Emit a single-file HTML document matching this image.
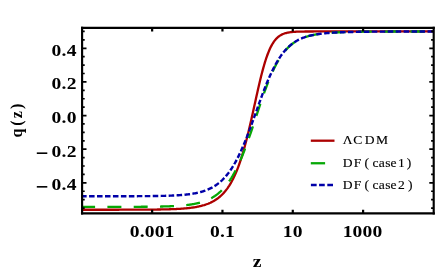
<!DOCTYPE html>
<html><head><meta charset="utf-8"><title>q(z)</title>
<style>
html,body{margin:0;padding:0;background:#fff;}
body{width:436px;height:273px;overflow:hidden;}
svg{display:block;will-change:transform;font-family:"Liberation Serif",serif;}
</style></head><body>
<svg width="436" height="273" viewBox="0 0 436 273">
<rect width="436" height="273" fill="#fff"/>
<clipPath id="c"><rect x="81.10" y="27.90" width="353.60" height="185.40"/></clipPath>
<g clip-path="url(#c)" fill="none" stroke-linecap="butt" stroke-linejoin="round">
<path d="M81.10 209.74 L81.86 209.74 L82.61 209.74 L83.37 209.74 L84.12 209.74 L84.88 209.74 L85.64 209.74 L86.39 209.74 L87.15 209.74 L87.91 209.74 L88.66 209.74 L89.42 209.74 L90.17 209.74 L90.93 209.74 L91.69 209.74 L92.44 209.74 L93.20 209.74 L93.95 209.74 L94.71 209.74 L95.47 209.74 L96.22 209.74 L96.98 209.74 L97.73 209.74 L98.49 209.74 L99.25 209.74 L100.00 209.74 L100.76 209.74 L101.52 209.74 L102.27 209.74 L103.03 209.74 L103.78 209.74 L104.54 209.74 L105.30 209.74 L106.05 209.74 L106.81 209.74 L107.56 209.73 L108.32 209.73 L109.08 209.73 L109.83 209.73 L110.59 209.73 L111.34 209.73 L112.10 209.73 L112.86 209.73 L113.61 209.73 L114.37 209.73 L115.13 209.73 L115.88 209.73 L116.64 209.73 L117.39 209.73 L118.15 209.73 L118.91 209.73 L119.66 209.72 L120.42 209.72 L121.17 209.72 L121.93 209.72 L122.69 209.72 L123.44 209.72 L124.20 209.72 L124.95 209.72 L125.71 209.72 L126.47 209.71 L127.22 209.71 L127.98 209.71 L128.74 209.71 L129.49 209.71 L130.25 209.71 L131.00 209.70 L131.76 209.70 L132.52 209.70 L133.27 209.70 L134.03 209.70 L134.78 209.69 L135.54 209.69 L136.30 209.69 L137.05 209.69 L137.81 209.68 L138.56 209.68 L139.32 209.68 L140.08 209.67 L140.83 209.67 L141.59 209.67 L142.35 209.66 L143.10 209.66 L143.86 209.65 L144.61 209.65 L145.37 209.64 L146.13 209.64 L146.88 209.63 L147.64 209.63 L148.39 209.62 L149.15 209.62 L149.91 209.61 L150.66 209.60 L151.42 209.60 L152.17 209.59 L152.93 209.58 L153.69 209.57 L154.44 209.56 L155.20 209.55 L155.96 209.55 L156.71 209.54 L157.47 209.52 L158.22 209.51 L158.98 209.50 L159.74 209.49 L160.49 209.48 L161.25 209.46 L162.00 209.45 L162.76 209.43 L163.52 209.42 L164.27 209.40 L165.03 209.38 L165.78 209.37 L166.54 209.35 L167.30 209.33 L168.05 209.31 L168.81 209.28 L169.57 209.26 L170.32 209.24 L171.08 209.21 L171.83 209.18 L172.59 209.16 L173.35 209.13 L174.10 209.09 L174.86 209.06 L175.61 209.03 L176.37 208.99 L177.13 208.95 L177.88 208.91 L178.64 208.87 L179.39 208.82 L180.15 208.78 L180.91 208.73 L181.66 208.68 L182.42 208.62 L183.18 208.57 L183.93 208.51 L184.69 208.44 L185.44 208.38 L186.20 208.31 L186.96 208.24 L187.71 208.16 L188.47 208.08 L189.22 207.99 L189.98 207.90 L190.74 207.81 L191.49 207.71 L192.25 207.61 L193.00 207.50 L193.76 207.39 L194.52 207.27 L195.27 207.14 L196.03 207.01 L196.79 206.87 L197.54 206.72 L198.30 206.57 L199.05 206.41 L199.81 206.24 L200.57 206.06 L201.32 205.88 L202.08 205.68 L202.83 205.47 L203.59 205.25 L204.35 205.03 L205.10 204.79 L205.86 204.53 L206.61 204.27 L207.37 203.99 L208.13 203.70 L208.88 203.39 L209.64 203.07 L210.40 202.73 L211.15 202.37 L211.91 201.99 L212.66 201.60 L213.42 201.18 L214.18 200.75 L214.93 200.29 L215.69 199.81 L216.44 199.30 L217.20 198.77 L217.96 198.21 L218.71 197.63 L219.47 197.01 L220.22 196.36 L220.98 195.68 L221.74 194.97 L222.49 194.22 L223.25 193.43 L224.01 192.61 L224.76 191.74 L225.52 190.83 L226.27 189.87 L227.03 188.87 L227.79 187.81 L228.54 186.71 L229.30 185.55 L230.05 184.33 L230.81 183.06 L231.57 181.73 L232.32 180.33 L233.08 178.86 L233.83 177.33 L234.59 175.73 L235.35 174.06 L236.10 172.31 L236.86 170.48 L237.62 168.57 L238.37 166.59 L239.13 164.51 L239.88 162.36 L240.64 160.12 L241.40 157.79 L242.15 155.37 L242.91 152.86 L243.66 150.27 L244.42 147.59 L245.18 144.82 L245.93 141.97 L246.69 139.04 L247.44 136.03 L248.20 132.94 L248.96 129.79 L249.71 126.57 L250.47 123.29 L251.23 119.97 L251.98 116.60 L252.74 113.19 L253.49 109.77 L254.25 106.33 L255.01 102.88 L255.76 99.44 L256.52 96.02 L257.27 92.63 L258.03 89.28 L258.79 85.99 L259.54 82.76 L260.30 79.60 L261.05 76.52 L261.81 73.54 L262.57 70.65 L263.32 67.88 L264.08 65.21 L264.84 62.67 L265.59 60.24 L266.35 57.95 L267.10 55.77 L267.86 53.73 L268.62 51.81 L269.37 50.01 L270.13 48.34 L270.88 46.78 L271.64 45.34 L272.40 44.01 L273.15 42.79 L273.91 41.66 L274.66 40.63 L275.42 39.69 L276.18 38.84 L276.93 38.06 L277.69 37.35 L278.45 36.71 L279.20 36.14 L279.96 35.62 L280.71 35.16 L281.47 34.74 L282.23 34.36 L282.98 34.03 L283.74 33.73 L284.49 33.46 L285.25 33.23 L286.01 33.02 L286.76 32.83 L287.52 32.67 L288.27 32.52 L289.03 32.39 L289.79 32.28 L290.54 32.18 L291.30 32.09 L292.06 32.01 L292.81 31.94 L293.57 31.88 L294.32 31.83 L295.08 31.78 L295.84 31.74 L296.59 31.71 L297.35 31.68 L298.10 31.65 L298.86 31.62 L299.62 31.60 L300.37 31.59 L301.13 31.57 L301.88 31.56 L302.64 31.54 L303.40 31.53 L304.15 31.53 L304.91 31.52 L305.67 31.51 L306.42 31.50 L307.18 31.50 L307.93 31.49 L308.69 31.49 L309.45 31.49 L310.20 31.48 L310.96 31.48 L311.71 31.48 L312.47 31.48 L313.23 31.48 L313.98 31.47 L314.74 31.47 L315.49 31.47 L316.25 31.47 L317.01 31.47 L317.76 31.47 L318.52 31.47 L319.28 31.47 L320.03 31.47 L320.79 31.47 L321.54 31.47 L322.30 31.47 L323.06 31.47 L323.81 31.47 L324.57 31.47 L325.32 31.47 L326.08 31.47 L326.84 31.47 L327.59 31.47 L328.35 31.47 L329.10 31.47 L329.86 31.47 L330.62 31.47 L331.37 31.47 L332.13 31.47 L332.89 31.47 L333.64 31.47 L334.40 31.47 L335.15 31.47 L335.91 31.47 L336.67 31.47 L337.42 31.47 L338.18 31.47 L338.93 31.47 L339.69 31.47 L340.45 31.47 L341.20 31.47 L341.96 31.47 L342.71 31.47 L343.47 31.47 L344.23 31.47 L344.98 31.47 L345.74 31.47 L346.50 31.47 L347.25 31.47 L348.01 31.47 L348.76 31.47 L349.52 31.47 L350.28 31.47 L351.03 31.47 L351.79 31.47 L352.54 31.47 L353.30 31.47 L354.06 31.47 L354.81 31.47 L355.57 31.47 L356.32 31.47 L357.08 31.47 L357.84 31.47 L358.59 31.47 L359.35 31.47 L360.11 31.47 L360.86 31.47 L361.62 31.47 L362.37 31.47 L363.13 31.47 L363.89 31.47 L364.64 31.47 L365.40 31.47 L366.15 31.47 L366.91 31.47 L367.67 31.47 L368.42 31.47 L369.18 31.47 L369.93 31.47 L370.69 31.47 L371.45 31.47 L372.20 31.47 L372.96 31.47 L373.72 31.47 L374.47 31.47 L375.23 31.47 L375.98 31.47 L376.74 31.47 L377.50 31.47 L378.25 31.47 L379.01 31.47 L379.76 31.47 L380.52 31.47 L381.28 31.47 L382.03 31.47 L382.79 31.47 L383.54 31.47 L384.30 31.47 L385.06 31.47 L385.81 31.47 L386.57 31.47 L387.33 31.47 L388.08 31.47 L388.84 31.47 L389.59 31.47 L390.35 31.47 L391.11 31.47 L391.86 31.47 L392.62 31.47 L393.37 31.47 L394.13 31.47 L394.89 31.47 L395.64 31.47 L396.40 31.47 L397.15 31.47 L397.91 31.47 L398.67 31.47 L399.42 31.47 L400.18 31.47 L400.94 31.47 L401.69 31.47 L402.45 31.47 L403.20 31.47 L403.96 31.47 L404.72 31.47 L405.47 31.47 L406.23 31.47 L406.98 31.47 L407.74 31.47 L408.50 31.47 L409.25 31.47 L410.01 31.47 L410.76 31.47 L411.52 31.47 L412.28 31.47 L413.03 31.47 L413.79 31.47 L414.55 31.47 L415.30 31.47 L416.06 31.47 L416.81 31.47 L417.57 31.47 L418.33 31.47 L419.08 31.47 L419.84 31.47 L420.59 31.47 L421.35 31.47 L422.11 31.47 L422.86 31.47 L423.62 31.47 L424.37 31.47 L425.13 31.47 L425.89 31.47 L426.64 31.47 L427.40 31.47 L428.16 31.47 L428.91 31.47 L429.67 31.47 L430.42 31.47 L431.18 31.47 L431.94 31.47 L432.69 31.47 L433.45 31.47" stroke="#ac0000" stroke-width="2.3"/>
<path d="M81.10 206.86 L81.68 206.86 L82.27 206.86 L82.85 206.86 L83.43 206.86 L84.02 206.86 L84.60 206.86 L85.18 206.86 L85.77 206.86 L86.35 206.86 L86.93 206.86 L87.52 206.86 L88.10 206.86 L88.68 206.86 L89.27 206.86 L89.85 206.86 L90.43 206.86 L91.02 206.86 L91.60 206.86 L92.18 206.86 L92.77 206.86 L93.35 206.86 L93.93 206.86 L94.52 206.86 L95.10 206.86 M107.40 206.86 L107.98 206.85 L108.57 206.85 L109.15 206.85 L109.73 206.85 L110.32 206.85 L110.90 206.85 L111.48 206.85 L112.07 206.85 L112.65 206.85 L113.23 206.85 L113.82 206.85 L114.40 206.85 L114.98 206.85 L115.57 206.85 L116.15 206.85 L116.73 206.85 L117.32 206.85 L117.90 206.85 L118.48 206.84 L119.07 206.84 L119.65 206.84 L120.23 206.84 L120.82 206.84 L121.40 206.84 M133.70 206.81 L134.28 206.81 L134.87 206.80 L135.45 206.80 L136.03 206.80 L136.62 206.80 L137.20 206.79 L137.78 206.79 L138.37 206.79 L138.95 206.79 L139.53 206.78 L140.12 206.78 L140.70 206.78 L141.28 206.77 L141.87 206.77 L142.45 206.77 L143.03 206.76 L143.62 206.76 L144.20 206.75 L144.78 206.75 L145.37 206.74 L145.95 206.74 L146.53 206.73 L147.12 206.73 L147.70 206.72 M160.00 206.55 L160.58 206.54 L161.16 206.52 L161.75 206.51 L162.33 206.50 L162.91 206.48 L163.50 206.47 L164.08 206.45 L164.66 206.44 L165.25 206.42 L165.83 206.40 L166.41 206.38 L166.99 206.37 L167.58 206.35 L168.16 206.33 L168.74 206.30 L169.33 206.28 L169.91 206.26 L170.49 206.24 L171.07 206.21 L171.66 206.19 L172.24 206.16 L172.82 206.13 L173.40 206.11 L173.99 206.08 M186.24 205.11 L186.82 205.05 L187.39 204.98 L187.97 204.90 L188.55 204.83 L189.13 204.75 L189.70 204.67 L190.28 204.59 L190.85 204.50 L191.43 204.41 L192.00 204.32 L192.57 204.22 L193.15 204.12 L193.72 204.02 L194.29 203.91 L194.86 203.80 L195.43 203.69 L196.00 203.57 L196.56 203.45 L197.13 203.32 L197.69 203.19 L198.26 203.06 L198.82 202.92 L199.38 202.77 L199.94 202.62 M211.16 198.22 L211.66 197.95 L212.15 197.67 L212.64 197.38 L213.12 197.09 L213.60 196.80 L214.07 196.50 L214.54 196.19 L215.01 195.88 L215.47 195.56 L215.93 195.24 L216.38 194.91 L216.83 194.58 L217.27 194.24 L217.71 193.90 L218.14 193.55 L218.57 193.20 L218.99 192.84 L219.41 192.48 L219.82 192.11 L220.23 191.74 L220.64 191.37 L221.04 190.99 L221.43 190.61 L221.82 190.23 M229.09 181.42 L229.39 180.98 L229.69 180.53 L229.99 180.09 L230.28 179.64 L230.57 179.19 L230.86 178.74 L231.15 178.29 L231.43 177.83 L231.71 177.38 L231.99 176.92 L232.26 176.46 L232.53 176.01 L232.80 175.55 L233.07 175.08 L233.33 174.62 L233.59 174.16 L233.85 173.69 L234.11 173.23 L234.37 172.76 L234.62 172.30 L234.87 171.83 L235.12 171.36 L235.37 170.89 L235.61 170.42 M240.36 160.34 L240.57 159.85 L240.78 159.37 L240.99 158.88 L241.19 158.40 L241.40 157.91 L241.60 157.43 L241.80 156.94 L242.00 156.45 L242.20 155.97 L242.40 155.48 L242.60 154.99 L242.80 154.50 L242.99 154.01 L243.19 153.52 L243.38 153.04 L243.58 152.55 L243.77 152.06 L243.96 151.57 L244.15 151.08 L244.34 150.59 L244.53 150.10 L244.72 149.61 L244.90 149.11 L245.09 148.62 M248.86 138.22 L249.04 137.72 L249.21 137.23 L249.38 136.73 L249.55 136.24 L249.73 135.74 L249.90 135.24 L250.07 134.75 L250.24 134.25 L250.41 133.76 L250.58 133.26 L250.75 132.76 L250.91 132.27 L251.08 131.77 L251.25 131.28 L251.42 130.78 L251.59 130.28 L251.75 129.79 L251.92 129.29 L252.09 128.79 L252.25 128.29 L252.42 127.80 L252.59 127.30 L252.75 126.80 L252.92 126.31 M256.39 115.82 L256.55 115.32 L256.71 114.82 L256.88 114.32 L257.04 113.83 L257.21 113.33 L257.37 112.83 L257.53 112.33 L257.70 111.84 L257.86 111.34 L258.03 110.84 L258.19 110.34 L258.36 109.85 L258.52 109.35 L258.69 108.85 L258.85 108.35 L259.02 107.86 L259.18 107.36 L259.35 106.86 L259.52 106.37 L259.68 105.87 L259.85 105.37 L260.02 104.87 L260.18 104.38 L260.35 103.88 M263.96 93.43 L264.14 92.93 L264.31 92.44 L264.49 91.95 L264.67 91.45 L264.85 90.96 L265.03 90.47 L265.21 89.97 L265.39 89.48 L265.57 88.99 L265.75 88.49 L265.93 88.00 L266.11 87.51 L266.30 87.02 L266.48 86.53 L266.67 86.03 L266.85 85.54 L267.04 85.05 L267.23 84.56 L267.42 84.07 L267.61 83.58 L267.80 83.09 L267.99 82.60 L268.18 82.11 L268.38 81.62 M272.73 71.40 L272.95 70.92 L273.17 70.44 L273.40 69.96 L273.63 69.48 L273.85 69.00 L274.08 68.53 L274.32 68.05 L274.55 67.58 L274.79 67.10 L275.03 66.63 L275.27 66.16 L275.51 65.69 L275.75 65.22 L276.00 64.75 L276.25 64.28 L276.50 63.81 L276.75 63.34 L277.01 62.88 L277.27 62.41 L277.53 61.95 L277.79 61.48 L278.06 61.02 L278.33 60.56 L278.60 60.10 M285.11 50.84 L285.46 50.43 L285.81 50.02 L286.18 49.61 L286.54 49.20 L286.91 48.80 L287.29 48.41 L287.67 48.01 L288.05 47.62 L288.44 47.24 L288.84 46.86 L289.24 46.48 L289.64 46.11 L290.06 45.74 L290.47 45.38 L290.89 45.02 L291.32 44.66 L291.75 44.31 L292.19 43.97 L292.63 43.63 L293.08 43.30 L293.53 42.97 L293.98 42.65 L294.45 42.33 L294.91 42.02 M305.74 36.91 L306.29 36.74 L306.84 36.57 L307.39 36.40 L307.95 36.24 L308.50 36.08 L309.06 35.93 L309.62 35.79 L310.18 35.65 L310.75 35.51 L311.31 35.38 L311.88 35.25 L312.44 35.13 L313.01 35.01 L313.58 34.90 L314.15 34.79 L314.72 34.68 L315.29 34.58 L315.86 34.48 L316.44 34.38 L317.01 34.28 L317.59 34.19 L318.16 34.11 L318.74 34.02 L319.31 33.94 M331.53 32.73 L332.12 32.69 L332.70 32.66 L333.28 32.62 L333.86 32.59 L334.44 32.55 L335.03 32.52 L335.61 32.49 L336.19 32.46 L336.77 32.43 L337.36 32.40 L337.94 32.37 L338.52 32.34 L339.10 32.32 L339.69 32.29 L340.27 32.27 L340.85 32.24 L341.43 32.22 L342.02 32.20 L342.60 32.17 L343.18 32.15 L343.76 32.13 L344.35 32.11 L344.93 32.09 L345.51 32.08 M357.81 31.79 L358.39 31.78 L358.98 31.77 L359.56 31.77 L360.14 31.76 L360.73 31.75 L361.31 31.74 L361.89 31.73 L362.48 31.72 L363.06 31.72 L363.64 31.71 L364.23 31.70 L364.81 31.70 L365.39 31.69 L365.98 31.68 L366.56 31.68 L367.14 31.67 L367.73 31.67 L368.31 31.66 L368.89 31.65 L369.47 31.65 L370.06 31.64 L370.64 31.64 L371.22 31.63 L371.81 31.63 M384.11 31.55 L384.69 31.55 L385.27 31.55 L385.86 31.55 L386.44 31.54 L387.02 31.54 L387.61 31.54 L388.19 31.54 L388.77 31.54 L389.36 31.53 L389.94 31.53 L390.52 31.53 L391.11 31.53 L391.69 31.53 L392.27 31.53 L392.86 31.52 L393.44 31.52 L394.02 31.52 L394.61 31.52 L395.19 31.52 L395.77 31.52 L396.36 31.51 L396.94 31.51 L397.52 31.51 L398.11 31.51 M410.41 31.49 L410.99 31.49 L411.57 31.49 L412.16 31.49 L412.74 31.49 L413.32 31.49 L413.91 31.49 L414.49 31.49 L415.07 31.49 L415.66 31.48 L416.24 31.48 L416.82 31.48 L417.41 31.48 L417.99 31.48 L418.57 31.48 L419.16 31.48 L419.74 31.48 L420.32 31.48 L420.91 31.48 L421.49 31.48 L422.07 31.48 L422.66 31.48 L423.24 31.48 L423.82 31.48 L424.41 31.48" stroke="#06a806" stroke-width="2.3"/>
<path d="M81.10 196.24 L81.71 196.24 L82.33 196.24 L82.94 196.24 L83.56 196.24 L84.17 196.24 L84.79 196.24 L85.40 196.24 L86.02 196.24 L86.63 196.24 M89.06 196.24 L89.67 196.24 L90.29 196.24 L90.90 196.24 L91.52 196.24 L92.13 196.24 L92.75 196.24 L93.36 196.24 L93.98 196.24 L94.59 196.24 M97.02 196.24 L97.63 196.24 L98.25 196.24 L98.86 196.24 L99.48 196.24 L100.09 196.24 L100.71 196.24 L101.32 196.24 L101.94 196.24 L102.55 196.24 M104.98 196.24 L105.59 196.24 L106.21 196.24 L106.82 196.24 L107.44 196.24 L108.05 196.24 L108.67 196.24 L109.28 196.24 L109.90 196.24 L110.51 196.23 M112.94 196.23 L113.55 196.23 L114.17 196.23 L114.78 196.23 L115.40 196.23 L116.01 196.23 L116.63 196.23 L117.24 196.23 L117.86 196.23 L118.47 196.23 M120.90 196.22 L121.51 196.22 L122.13 196.22 L122.74 196.22 L123.36 196.22 L123.97 196.22 L124.59 196.22 L125.20 196.22 L125.82 196.21 L126.43 196.21 M128.86 196.21 L129.47 196.21 L130.09 196.20 L130.70 196.20 L131.32 196.20 L131.93 196.20 L132.55 196.20 L133.16 196.19 L133.78 196.19 L134.39 196.19 M136.82 196.18 L137.43 196.18 L138.05 196.17 L138.66 196.17 L139.28 196.17 L139.89 196.17 L140.51 196.16 L141.12 196.16 L141.74 196.16 L142.35 196.15 M144.78 196.13 L145.39 196.13 L146.01 196.13 L146.62 196.12 L147.24 196.12 L147.85 196.11 L148.47 196.10 L149.08 196.10 L149.70 196.09 L150.31 196.09 M152.74 196.06 L153.35 196.05 L153.97 196.04 L154.58 196.03 L155.20 196.03 L155.81 196.02 L156.43 196.01 L157.04 196.00 L157.65 195.99 L158.27 195.98 M160.70 195.93 L161.31 195.92 L161.93 195.90 L162.54 195.89 L163.15 195.88 L163.77 195.86 L164.38 195.84 L165.00 195.83 L165.61 195.81 L166.23 195.79 M168.65 195.71 L169.27 195.69 L169.88 195.67 L170.50 195.65 L171.11 195.62 L171.72 195.60 L172.34 195.57 L172.95 195.54 L173.56 195.51 L174.18 195.48 M176.60 195.35 L177.22 195.32 L177.83 195.28 L178.44 195.24 L179.06 195.20 L179.67 195.16 L180.28 195.11 L180.89 195.06 L181.50 195.02 L182.12 194.97 M184.53 194.75 L185.14 194.69 L185.75 194.63 L186.36 194.56 L186.97 194.49 L187.58 194.42 L188.19 194.35 L188.80 194.27 L189.41 194.19 L190.02 194.11 M192.41 193.75 L193.02 193.65 L193.62 193.55 L194.22 193.44 L194.82 193.33 L195.43 193.22 L196.02 193.10 L196.62 192.97 L197.22 192.85 L197.82 192.71 M200.16 192.14 L200.75 191.98 L201.33 191.82 L201.92 191.65 L202.50 191.48 L203.08 191.30 L203.66 191.11 L204.24 190.92 L204.81 190.73 L205.38 190.52 M207.61 189.66 L208.16 189.42 L208.71 189.18 L209.26 188.93 L209.80 188.68 L210.34 188.42 L210.88 188.15 L211.41 187.88 L211.94 187.60 L212.46 187.31 M214.49 186.12 L214.99 185.80 L215.48 185.48 L215.97 185.15 L216.46 184.81 L216.94 184.47 L217.41 184.13 L217.88 183.78 L218.35 183.42 L218.81 183.05 M220.57 181.57 L221.01 181.18 L221.43 180.79 L221.86 180.40 L222.28 180.00 L222.69 179.59 L223.10 179.19 L223.50 178.77 L223.90 178.36 L224.30 177.94 M225.81 176.25 L226.18 175.81 L226.55 175.38 L226.91 174.93 L227.27 174.49 L227.62 174.05 L227.97 173.60 L228.32 173.15 L228.66 172.69 L229.00 172.24 M230.30 170.41 L230.62 169.95 L230.94 169.48 L231.25 169.01 L231.56 168.54 L231.87 168.06 L232.17 167.59 L232.47 167.11 L232.77 166.64 L233.07 166.16 M234.21 164.25 L234.49 163.76 L234.77 163.28 L235.04 162.79 L235.32 162.30 L235.59 161.81 L235.86 161.32 L236.13 160.83 L236.39 160.34 L236.65 159.84 M237.67 157.88 L237.93 157.38 L238.18 156.88 L238.43 156.38 L238.67 155.88 L238.92 155.38 L239.16 154.88 L239.40 154.38 L239.64 153.88 L239.88 153.37 M240.81 151.38 L241.04 150.87 L241.27 150.36 L241.50 149.86 L241.73 149.35 L241.95 148.84 L242.17 148.33 L242.40 147.82 L242.62 147.32 L242.84 146.81 M243.70 144.79 L243.92 144.27 L244.13 143.76 L244.34 143.25 L244.55 142.74 L244.77 142.22 L244.98 141.71 L245.18 141.20 L245.39 140.68 L245.60 140.17 M246.41 138.13 L246.61 137.62 L246.82 137.10 L247.02 136.59 L247.22 136.07 L247.42 135.55 L247.62 135.04 L247.82 134.52 L248.02 134.00 L248.21 133.49 M248.99 131.44 L249.18 130.92 L249.38 130.40 L249.57 129.88 L249.77 129.37 L249.96 128.85 L250.15 128.33 L250.34 127.81 L250.53 127.29 L250.73 126.77 M251.48 124.72 L251.67 124.20 L251.86 123.68 L252.05 123.16 L252.23 122.64 L252.42 122.12 L252.61 121.60 L252.80 121.08 L252.98 120.56 L253.17 120.04 M253.91 117.98 L254.10 117.46 L254.28 116.94 L254.47 116.42 L254.66 115.90 L254.84 115.38 L255.03 114.86 L255.21 114.34 L255.40 113.82 L255.58 113.30 M256.32 111.24 L256.50 110.72 L256.69 110.20 L256.87 109.67 L257.06 109.15 L257.25 108.63 L257.43 108.11 L257.62 107.59 L257.80 107.07 L257.99 106.55 M258.73 104.49 L258.92 103.97 L259.10 103.45 L259.29 102.93 L259.48 102.41 L259.67 101.89 L259.86 101.37 L260.05 100.85 L260.24 100.33 L260.42 99.81 M261.18 97.76 L261.37 97.24 L261.56 96.72 L261.75 96.20 L261.95 95.69 L262.14 95.17 L262.33 94.65 L262.53 94.13 L262.72 93.61 L262.92 93.09 M263.69 91.05 L263.89 90.53 L264.09 90.01 L264.29 89.50 L264.49 88.98 L264.69 88.47 L264.89 87.95 L265.10 87.43 L265.30 86.92 L265.50 86.40 M266.32 84.37 L266.53 83.85 L266.73 83.34 L266.95 82.83 L267.16 82.31 L267.37 81.80 L267.58 81.29 L267.80 80.78 L268.01 80.27 L268.23 79.76 M269.10 77.74 L269.32 77.23 L269.54 76.72 L269.77 76.21 L269.99 75.70 L270.22 75.20 L270.45 74.69 L270.68 74.18 L270.92 73.68 L271.15 73.17 M272.09 71.18 L272.33 70.68 L272.58 70.18 L272.83 69.68 L273.07 69.18 L273.32 68.68 L273.58 68.18 L273.83 67.69 L274.09 67.19 L274.34 66.69 M275.39 64.74 L275.66 64.25 L275.93 63.76 L276.20 63.27 L276.48 62.79 L276.76 62.30 L277.04 61.82 L277.33 61.33 L277.62 60.85 L277.91 60.37 M279.09 58.48 L279.40 58.01 L279.71 57.54 L280.03 57.07 L280.34 56.60 L280.67 56.14 L280.99 55.67 L281.32 55.21 L281.65 54.75 L281.99 54.30 M283.37 52.52 L283.72 52.07 L284.09 51.63 L284.45 51.19 L284.83 50.76 L285.20 50.33 L285.59 49.90 L285.97 49.48 L286.36 49.06 L286.76 48.64 M288.38 47.03 L288.81 46.63 L289.24 46.24 L289.67 45.86 L290.11 45.48 L290.56 45.10 L291.01 44.73 L291.46 44.36 L291.93 44.00 L292.39 43.65 M294.30 42.31 L294.79 41.98 L295.29 41.67 L295.80 41.36 L296.31 41.05 L296.82 40.76 L297.34 40.46 L297.87 40.18 L298.40 39.90 L298.93 39.63 M301.09 38.63 L301.64 38.40 L302.20 38.17 L302.76 37.94 L303.32 37.73 L303.89 37.52 L304.46 37.31 L305.03 37.12 L305.61 36.93 L306.19 36.74 M308.50 36.07 L309.08 35.91 L309.68 35.76 L310.27 35.62 L310.86 35.48 L311.46 35.34 L312.05 35.21 L312.65 35.08 L313.25 34.96 L313.85 34.84 M316.23 34.42 L316.84 34.32 L317.44 34.22 L318.05 34.13 L318.65 34.04 L319.26 33.96 L319.87 33.87 L320.47 33.80 L321.08 33.72 L321.69 33.65 M324.10 33.38 L324.71 33.32 L325.32 33.26 L325.94 33.20 L326.55 33.15 L327.16 33.09 L327.77 33.04 L328.38 32.99 L328.99 32.94 L329.61 32.90 M332.03 32.73 L332.64 32.69 L333.26 32.65 L333.87 32.62 L334.48 32.58 L335.09 32.55 L335.71 32.51 L336.32 32.48 L336.94 32.45 L337.55 32.42 M339.98 32.31 L340.59 32.29 L341.20 32.27 L341.82 32.24 L342.43 32.22 L343.04 32.20 L343.66 32.18 L344.27 32.16 L344.89 32.14 L345.50 32.12 M347.93 32.05 L348.54 32.03 L349.16 32.01 L349.77 32.00 L350.39 31.98 L351.00 31.97 L351.61 31.95 L352.23 31.94 L352.84 31.93 L353.46 31.91 M355.89 31.87 L356.50 31.85 L357.12 31.84 L357.73 31.83 L358.34 31.82 L358.96 31.81 L359.57 31.80 L360.19 31.79 L360.80 31.79 L361.42 31.78 M363.85 31.74 L364.46 31.74 L365.07 31.73 L365.69 31.72 L366.30 31.72 L366.92 31.71 L367.53 31.70 L368.15 31.70 L368.76 31.69 L369.38 31.68 M371.81 31.66 L372.42 31.66 L373.03 31.65 L373.65 31.65 L374.26 31.64 L374.88 31.64 L375.49 31.63 L376.11 31.63 L376.72 31.62 L377.34 31.62 M379.77 31.60 L380.38 31.60 L380.99 31.60 L381.61 31.59 L382.22 31.59 L382.84 31.59 L383.45 31.58 L384.07 31.58 L384.68 31.58 L385.29 31.57 M387.72 31.56 L388.34 31.56 L388.95 31.56 L389.57 31.56 L390.18 31.55 L390.80 31.55 L391.41 31.55 L392.03 31.55 L392.64 31.54 L393.25 31.54 M395.68 31.54 L396.30 31.53 L396.91 31.53 L397.53 31.53 L398.14 31.53 L398.76 31.53 L399.37 31.52 L399.99 31.52 L400.60 31.52 L401.21 31.52 M403.64 31.52 L404.26 31.51 L404.87 31.51 L405.49 31.51 L406.10 31.51 L406.72 31.51 L407.33 31.51 L407.95 31.51 L408.56 31.51 L409.17 31.50 M411.60 31.50 L412.22 31.50 L412.83 31.50 L413.45 31.50 L414.06 31.50 L414.68 31.50 L415.29 31.50 L415.91 31.49 L416.52 31.49 L417.13 31.49 M419.56 31.49 L420.18 31.49 L420.79 31.49 L421.41 31.49 L422.02 31.49 L422.64 31.49 L423.25 31.49 L423.87 31.49 L424.48 31.49 L425.09 31.49 M427.52 31.48 L428.14 31.48 L428.75 31.48 L429.37 31.48 L429.98 31.48 L430.60 31.48 L431.21 31.48 L431.83 31.48 L432.44 31.48 L433.05 31.48" stroke="#0000a8" stroke-width="2.4"/>
</g>
<path d="M82.10 208.05 h2.60 M433.70 208.05 h-2.60 M82.10 199.64 h2.60 M433.70 199.64 h-2.60 M82.10 191.23 h2.60 M433.70 191.23 h-2.60 M82.10 182.83 h4.40 M433.70 182.83 h-4.40 M82.10 174.42 h2.60 M433.70 174.42 h-2.60 M82.10 166.01 h2.60 M433.70 166.01 h-2.60 M82.10 157.60 h2.60 M433.70 157.60 h-2.60 M82.10 149.19 h4.40 M433.70 149.19 h-4.40 M82.10 140.78 h2.60 M433.70 140.78 h-2.60 M82.10 132.37 h2.60 M433.70 132.37 h-2.60 M82.10 123.96 h2.60 M433.70 123.96 h-2.60 M82.10 115.55 h4.40 M433.70 115.55 h-4.40 M82.10 107.15 h2.60 M433.70 107.15 h-2.60 M82.10 98.74 h2.60 M433.70 98.74 h-2.60 M82.10 90.33 h2.60 M433.70 90.33 h-2.60 M82.10 81.92 h4.40 M433.70 81.92 h-4.40 M82.10 73.51 h2.60 M433.70 73.51 h-2.60 M82.10 65.10 h2.60 M433.70 65.10 h-2.60 M82.10 56.69 h2.60 M433.70 56.69 h-2.60 M82.10 48.28 h4.40 M433.70 48.28 h-4.40 M82.10 39.87 h2.60 M433.70 39.87 h-2.60 M82.10 31.47 h2.60 M433.70 31.47 h-2.60" stroke="#000" stroke-width="1.7" fill="none"/>
<path d="M152.14 213.30 v-3.60 M152.14 27.90 v3.60 M222.46 213.30 v-3.60 M222.46 27.90 v3.60 M292.78 213.30 v-3.60 M292.78 27.90 v3.60 M363.10 213.30 v-3.60 M363.10 27.90 v3.60" stroke="#000" stroke-width="2.2" fill="none"/>
<path d="M82.10 27.90 H433.70" stroke="#000" stroke-width="2.15" stroke-linecap="square" fill="none"/>
<path d="M82.10 213.35 H433.70" stroke="#000" stroke-width="2.3" stroke-linecap="square" fill="none"/>
<path d="M82.10 27.90 V213.30 M433.70 27.90 V213.30" stroke="#000" stroke-width="2.15" stroke-linecap="square" fill="none"/>
<g fill="#000">
<text transform="translate(76.95 55.83) scale(1.18 1)" font-size="16.6" font-weight="bold" text-anchor="end" letter-spacing="0.3">0.4</text>
<text transform="translate(76.95 89.47) scale(1.18 1)" font-size="16.6" font-weight="bold" text-anchor="end" letter-spacing="0.3">0.2</text>
<text transform="translate(76.95 123.10) scale(1.18 1)" font-size="16.6" font-weight="bold" text-anchor="end" letter-spacing="0.3">0.0</text>
<text transform="translate(76.95 156.74) scale(1.18 1)" font-size="16.6" font-weight="bold" text-anchor="end" letter-spacing="0.3">0.2</text>
<rect x="36.8" y="152.39" width="10.5" height="1.6"/>
<text transform="translate(76.95 190.38) scale(1.18 1)" font-size="16.6" font-weight="bold" text-anchor="end" letter-spacing="0.3">0.4</text>
<rect x="36.8" y="186.03" width="10.5" height="1.6"/>
<text transform="translate(152.12 236.70) scale(1.18 1)" font-size="16.6" font-weight="bold" text-anchor="middle" letter-spacing="0.15">0.001</text>
<text transform="translate(222.44 236.70) scale(1.18 1)" font-size="16.6" font-weight="bold" text-anchor="middle" letter-spacing="0.15">0.1</text>
<text transform="translate(292.76 236.70) scale(1.18 1)" font-size="16.6" font-weight="bold" text-anchor="middle" letter-spacing="0.15">10</text>
<text transform="translate(362.58 236.70) scale(1.18 1)" font-size="16.6" font-weight="bold" text-anchor="middle" letter-spacing="0.15">1000</text>
<text transform="translate(257.00 267.20) scale(1.18 1)" font-size="16.6" font-weight="bold" text-anchor="middle" letter-spacing="0">z</text>
<text transform="translate(22.0 121.0) rotate(-90) scale(1 1.07)" font-size="16" font-weight="bold" x="-16.5 -4.8 2.8 12.0">q(z)</text>
</g>
<g fill="none">
<path d="M310.8 140.7 H334.5" stroke="#ac0000" stroke-width="2.3"/>
<path d="M310.8 163.25 H325.1" stroke="#06a806" stroke-width="2.3"/>
<path d="M310.9 185.05 H316.65 M319.1 185.05 H324.75 M327.3 185.05 H333.0" stroke="#0000a8" stroke-width="2.4"/>
<text fill="#000" stroke="#000" stroke-width="0.12" transform="translate(342.70 144.40) scale(1.17 1)" x="0.00 9.06 18.80 28.46" font-size="11.6">ΛCDM</text>
<text fill="#000" stroke="#000" stroke-width="0.12" transform="translate(342.70 166.80) scale(1.17 1)" x="0.00 9.40 18.63 25.56 30.77 36.41 40.94 47.35 54.70" font-size="11.6">DF(case1)</text>
<text fill="#000" stroke="#000" stroke-width="0.12" transform="translate(342.70 188.80) scale(1.17 1)" x="0.00 9.40 18.63 25.56 30.77 36.41 40.94 47.35 55.73" font-size="11.6">DF(case2)</text>
</g>
</svg>
</body></html>
